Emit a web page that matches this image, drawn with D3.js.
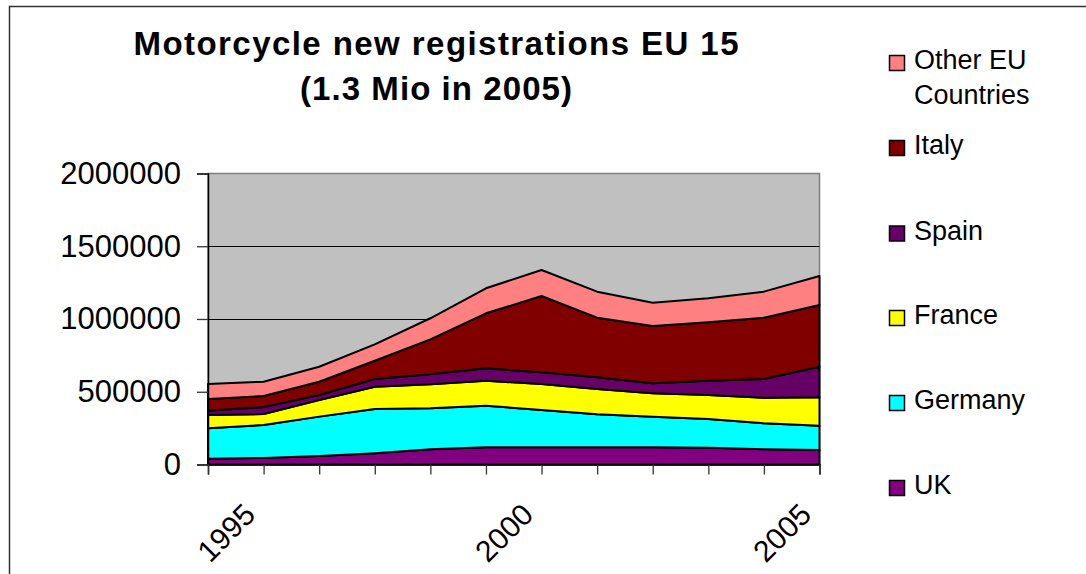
<!DOCTYPE html>
<html>
<head>
<meta charset="utf-8">
<script src="https://cdn.jsdelivr.net/npm/d3@7"></script>
<style>
  body { margin: 0; background: #fff; }
  text { font-family: Arial, "Liberation Sans", sans-serif; fill: #000; }
</style>
</head>
<body>
<div id="chart"></div>
<script>
// years on the category axis, only every 5th gets a label
var years = [1994, 1995, 1996, 1997, 1998, 1999, 2000, 2001, 2002, 2003, 2004, 2005];
var yearLabels = [1995, 2000, 2005];

// new registrations per country
var uk      = [40000, 45000, 58000, 77000, 104000, 118000, 118000, 118000, 118000, 115000, 104000, 100000];
var germany = [209000, 226000, 271000, 304000, 282000, 286000, 257000, 227000, 211000, 198000, 179000, 167000];
var france  = [91000, 76000, 114000, 154000, 165000, 172000, 178000, 174000, 160000, 165000, 176000, 195000];
var spain   = [30000, 48000, 35000, 53000, 69000, 85000, 81000, 80000, 69000, 98000, 129000, 210000];
var italy   = [80000, 76000, 91000, 125000, 240000, 378000, 524000, 410000, 394000, 401000, 421000, 424000];
var other   = [103000, 98000, 103000, 113000, 145000, 172000, 179000, 179000, 160000, 165000, 179000, 200000];

var seriesNames = ["UK", "Germany", "France", "Spain", "Italy", "Other EU Countries"];
var seriesColors = ["#800080", "#00FFFF", "#FFFF00", "#660066", "#800000", "#FF8080"];
var yTicks = [0, 500000, 1000000, 1500000, 2000000];

var table = years.map(function(yr, i) {
  return {
    year: yr,
    "UK": uk[i],
    "Germany": germany[i],
    "France": france[i],
    "Spain": spain[i],
    "Italy": italy[i],
    "Other EU Countries": other[i]
  };
});

var width = 1086, height = 574;
var svg = d3.select("#chart")
  .append("svg")
  .attr("width", width)
  .attr("height", height);

// chart frame
svg.append("rect")
  .attr("x", 9.5).attr("y", 6.5)
  .attr("width", 1100).attr("height", 600)
  .attr("fill", "none")
  .attr("stroke", "#333")
  .attr("stroke-width", 1.5);

var plotLeft = 208, plotRight = 819.5, plotTop = 173.5, plotBottom = 464.5;

var x = d3.scalePoint().domain(years).range([plotLeft, plotRight]);
var y = d3.scaleLinear().domain([0, 2000000]).range([plotBottom, plotTop]);

// plot background
svg.append("rect")
  .attr("x", plotLeft).attr("y", plotTop)
  .attr("width", plotRight - plotLeft).attr("height", plotBottom - plotTop)
  .attr("fill", "#C0C0C0")
  .attr("stroke", "#808080")
  .attr("stroke-width", 1.5);

// gridlines
svg.selectAll("line.grid")
  .data(yTicks.slice(1, 4))
  .enter()
  .append("line")
  .attr("class", "grid")
  .attr("x1", plotLeft).attr("x2", plotRight)
  .attr("y1", function(d) { return Math.round(y(d)) + 0.5; })
  .attr("y2", function(d) { return Math.round(y(d)) + 0.5; })
  .attr("stroke", "#000")
  .attr("stroke-width", 1.2);

var stack = d3.stack().keys(seriesNames);
var layers = stack(table);

var area = d3.area()
  .x(function(d) { return x(d.data.year); })
  .y0(function(d) { return y(d[0]); })
  .y1(function(d) { return y(d[1]); });

svg.selectAll("path.layer")
  .data(layers)
  .enter()
  .append("path")
  .attr("class", "layer")
  .attr("d", area)
  .attr("fill", function(d, i) { return seriesColors[i]; })
  .attr("stroke", "#000")
  .attr("stroke-width", 2)
  .attr("stroke-linejoin", "round");

// y axis
var yAxis = d3.axisLeft(y)
  .tickValues(yTicks)
  .tickSize(11)
  .tickPadding(16)
  .tickFormat(d3.format("d"));

var gy = svg.append("g")
  .attr("transform", "translate(" + plotLeft + ",0)")
  .call(yAxis);
gy.select(".domain").attr("stroke", "#000").attr("stroke-width", 1.5);
gy.selectAll(".tick line").attr("stroke", "#333").attr("stroke-width", 1.3);
gy.selectAll(".tick text")
  .style("font-size", "31px")
  .style("font-family", "Arial, 'Liberation Sans', sans-serif");

// x axis
var xAxis = d3.axisBottom(x)
  .tickSize(10)
  .tickFormat(function(d) { return yearLabels.indexOf(d) >= 0 ? d : ""; });

var gx = svg.append("g")
  .attr("transform", "translate(0," + plotBottom + ")")
  .call(xAxis);
gx.select(".domain").attr("stroke", "#000").attr("stroke-width", 1.5);
gx.selectAll(".tick line").attr("stroke", "#333").attr("stroke-width", 1.3);
gx.selectAll(".tick text")
  .style("font-size", "30px")
  .style("font-family", "Arial, 'Liberation Sans', sans-serif")
  .attr("text-anchor", "end")
  .attr("dy", null)
  .attr("y", 0)
  .attr("transform", "translate(-7,52) rotate(-45)");

// title
var title = svg.append("g");
title.append("text")
  .attr("x", 436).attr("y", 55)
  .attr("text-anchor", "middle")
  .attr("font-weight", "bold")
  .attr("font-size", 33)
  .attr("textLength", 605)
  .attr("lengthAdjust", "spacing")
  .text("Motorcycle new registrations EU 15");
title.append("text")
  .attr("x", 436).attr("y", 100)
  .attr("text-anchor", "middle")
  .attr("font-weight", "bold")
  .attr("font-size", 33)
  .attr("textLength", 272)
  .attr("lengthAdjust", "spacing")
  .text("(1.3 Mio in 2005)");

// legend, top entry is the top layer
var legendItems = seriesNames.map(function(n, i) {
  return { name: n, color: seriesColors[i] };
}).reverse();
var legendTops = [55, 140, 225.5, 310, 395, 480];

var legend = svg.selectAll("g.legend")
  .data(legendItems)
  .enter()
  .append("g")
  .attr("class", "legend")
  .attr("transform", function(d, i) { return "translate(889," + legendTops[i] + ")"; });

legend.append("rect")
  .attr("x", 0.5).attr("y", 0.5)
  .attr("width", 15).attr("height", 15)
  .attr("fill", function(d) { return d.color; })
  .attr("stroke", "#000")
  .attr("stroke-width", 1.5);

legend.append("text")
  .attr("x", 25)
  .attr("y", 14)
  .attr("font-size", 27)
  .each(function(d) {
    var t = d3.select(this);
    if (d.name === "Other EU Countries") {
      t.append("tspan").attr("x", 25).attr("y", 14).text("Other EU");
      t.append("tspan").attr("x", 25).attr("y", 49).text("Countries");
    } else {
      t.text(d.name);
    }
  });
</script>
</body>
</html>
